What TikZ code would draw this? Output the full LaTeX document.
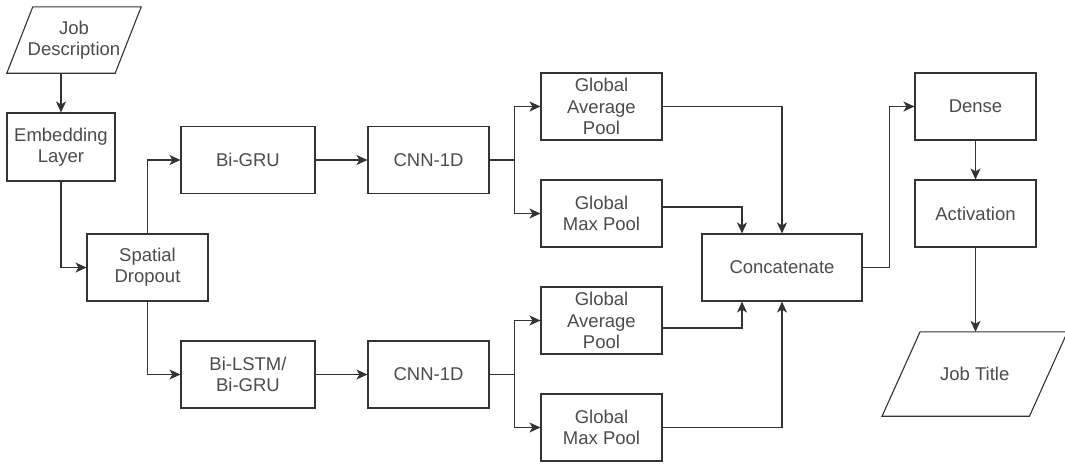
\documentclass[tikz,border=0pt]{standalone}
\usepackage{fontspec}
\setmainfont{Liberation Sans}
\usetikzlibrary{arrows.meta}

\begin{document}
\begin{tikzpicture}[
  x=1pt, y=-1pt,
  font=\fontsize{18.5}{21.3}\selectfont,
  layer/.style={draw=black!80, text=black!70, line width=1.1pt, rectangle, align=center,
    inner sep=0pt, minimum width=121pt, minimum height=67pt},
  io/.style={text=black!70, align=center, inner sep=0pt},
  wire/.style={draw=black!80, line width=1.1pt},
  arr/.style={wire, -{Stealth[length=11pt, width=10pt, inset=3pt]}},
]
\path[use as bounding box, fill=white] (0,0) rectangle (1065,466);

\node (jd) [io, minimum width=108pt, minimum height=66pt] at (74,40) {Job\\Description};
\draw[wire]
  ([xshift=-13pt]jd.south west) -- ([xshift=13pt]jd.north west) --
  ([xshift=13pt]jd.north east) -- ([xshift=-13pt]jd.south east) -- cycle;

\node (emb) [layer, minimum width=108pt, minimum height=68pt] at (61,147) {Embedding\\Layer};
\node (sd) [layer] at (147.5,267.5) {Spatial\\Dropout};
\node (rnn1) [layer, minimum width=134pt] at (248,160) {Bi-GRU};
\node (rnn2) [layer, minimum width=134pt] at (248,374.5) {Bi-LSTM/\\Bi-GRU};
\node (cnn1) [layer] at (428.5,160) {CNN-1D};
\node (cnn2) [layer] at (428.5,374.5) {CNN-1D};

\foreach [evaluate={\ym=\y+107;}] \k/\y in {1/106.5, 2/320.5} {
  \node (gap\k) [layer] at (601.5,\y) {Global\\Average\\Pool};
  \node (gmp\k) [layer] at (601.5,\ym) {Global\\Max Pool};
}

\node (cat) [layer, minimum width=160pt] at (782,267.5) {Concatenate};
\node (dense) [layer] at (975.5,106.5) {Dense};
\node (act) [layer] at (975.5,213.5) {Activation};

\node (jt) [io, minimum width=147pt, minimum height=84pt] at (974.75,374) {Job Title};
\draw[wire]
  ([xshift=-19pt]jt.south west) -- ([xshift=19pt]jt.north west) --
  ([xshift=19pt]jt.north east) -- ([xshift=-19pt]jt.south east) -- cycle;

% input side
\draw[arr] (emb.north |- jd.south) -- (emb.north);
\draw[arr] (emb.south) |- (sd.west);
\draw[arr] (sd.north) |- (rnn1.west);
\draw[arr] (sd.south) |- (rnn2.west);

% two branches
\foreach \k in {1,2} {
  \draw[arr] (rnn\k.east) -- (cnn\k.west);
  \coordinate (sp\k) at ([xshift=25pt]cnn\k.east);
  \draw[wire] (cnn\k.east) -- (sp\k);
  \draw[arr] (sp\k) |- (gap\k.west);
  \draw[arr] (sp\k) |- (gmp\k.west);
}

% into concatenate
\draw[arr] (gap1.east) -| (cat.north);
\draw[arr] ([yshift=6.5pt]gmp1.east) -| ([xshift=-40pt]cat.north);
\draw[arr] ([yshift=-7.5pt]gap2.east) -| ([xshift=-40pt]cat.south);
\draw[arr] (gmp2.east) -| (cat.south);

% output side
\draw[arr] (cat.east) -- ++(27,0) |- (dense.west);
\draw[arr] (dense.south) -- (act.north);
\draw[arr] (act.south) -- (act.south |- jt.north);

\end{tikzpicture}
\end{document}
